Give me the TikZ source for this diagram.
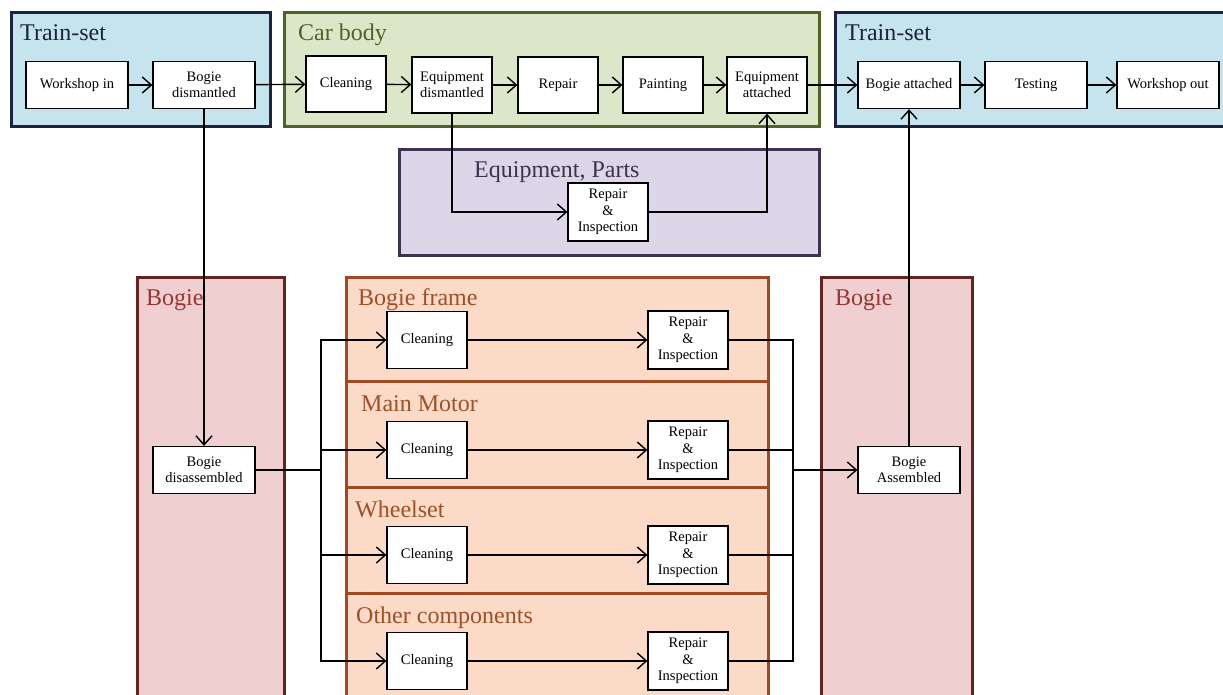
\documentclass[tikz,border=0pt]{standalone}
\usepackage{fontspec}
\setmainfont{Liberation Serif}
\usetikzlibrary{arrows.meta,positioning}
\definecolor{tsfill}{HTML}{C6E4EE}
\definecolor{tsdraw}{HTML}{1C2340}
\definecolor{cbfill}{HTML}{DCE6C8}
\definecolor{cbdraw}{HTML}{4F6228}
\definecolor{epfill}{HTML}{DCD6E8}
\definecolor{epdraw}{HTML}{3F3151}
\definecolor{bgfill}{HTML}{EFCFCF}
\definecolor{bgdraw}{HTML}{632523}
\definecolor{bgtext}{HTML}{943634}
\definecolor{orfill}{HTML}{FBDAC8}
\definecolor{ordraw}{HTML}{A04A22}
\definecolor{ortext}{HTML}{9C5228}
\begin{document}
\begin{tikzpicture}[x=1pt,y=-1pt,
  container/.style={line width=3pt},
  grouplabel/.style={anchor=base west,inner sep=0pt,font=\fontsize{24}{28}\selectfont},
  proc/.style={draw=black,line width=1.3pt,fill=white,align=center,inner sep=1pt,
    font=\fontsize{14.5}{16.5}\selectfont},
  wide/.style={proc,minimum width=102pt,minimum height=47pt},
  narrow/.style={proc,minimum width=80pt,minimum height=56pt},
  ri/.style={proc,minimum width=80pt,minimum height=58pt},
  conn/.style={line width=1.4pt,draw=black},
  arr/.style={conn,-{Straight Barb[length=9pt,width=16pt,line width=1.4pt]}}]
\useasboundingbox (0,0) rectangle (1223,695);
\clip (0,0) rectangle (1223,695);
\fill[white] (0,0) rectangle (1223,695);
% containers
\draw[container,draw=tsdraw,fill=tsfill] (11,13) rectangle (270,127);
\draw[container,draw=cbdraw,fill=cbfill] (284,13) rectangle (819,127);
\draw[container,draw=tsdraw,fill=tsfill] (835,13) rectangle (1240,127);
\draw[container,draw=epdraw,fill=epfill] (399,150) rectangle (819,255);
\draw[container,draw=bgdraw,fill=bgfill] (137,277) rectangle (284,710);
\draw[container,draw=bgdraw,fill=bgfill] (821,277) rectangle (972,710);
\draw[container,draw=ordraw,fill=orfill] (346,277) rectangle (768,381);
\draw[container,draw=ordraw,fill=orfill] (346,381) rectangle (768,487);
\draw[container,draw=ordraw,fill=orfill] (346,487) rectangle (768,593);
\draw[container,draw=ordraw,fill=orfill] (346,593) rectangle (768,710);
% group labels
\node[grouplabel,text=tsdraw] (lts1) at (20,41) {Train-set};
\node[grouplabel,text=cbdraw] (lcb) at (298,41) {Car body};
\node[grouplabel,text=tsdraw] (lts2) at (845,41) {Train-set};
\node[grouplabel,text=epdraw] (lep) at (474,178) {Equipment, Parts};
\node[grouplabel,text=bgtext] (lbg1) at (146,305) {Bogie};
\node[grouplabel,text=bgtext] (lbg2) at (835,305) {Bogie};
\node[grouplabel,text=ortext] (lbf) at (358,305) {Bogie frame};
\node[grouplabel,text=ortext] (lmm) at (361,411) {Main Motor};
\node[grouplabel,text=ortext] (lws) at (355,517) {Wheelset};
\node[grouplabel,text=ortext] (loc) at (356,623) {Other components};
% process nodes
\node[wide] (wi) at (77,85) {Workshop in};
\node[wide] (bd) at (204,85) {Bogie\\dismantled};
\node[narrow] (cl) at (346,84) {Cleaning};
\node[narrow] (eqd) at (452,85) {Equipment\\dismantled};
\node[narrow] (rep) at (558,85) {Repair};
\node[narrow] (pnt) at (663,85) {Painting};
\node[narrow] (eqa) at (767,85) {Equipment\\attached};
\node[wide] (bat) at (909,85) {Bogie attached};
\node[wide] (tst) at (1036,85) {Testing};
\node[wide] (wo) at (1168,85) {Workshop out};
\node[ri] (eri) at (608,212) {Repair\\\&\\Inspection};
\node[wide] (bdis) at (204,470) {Bogie\\disassembled};
\node[wide] (bas) at (909,470) {Bogie\\Assembled};
\node[narrow,minimum height=57pt] (c1) at (427,340) {Cleaning};
\node[narrow,minimum height=57pt] (c2) at (427,450) {Cleaning};
\node[narrow,minimum height=57pt] (c3) at (427,555) {Cleaning};
\node[narrow,minimum height=57pt] (c4) at (427,661) {Cleaning};
\node[ri] (r1) at (688,340) {Repair\\\&\\Inspection};
\node[ri] (r2) at (688,450) {Repair\\\&\\Inspection};
\node[ri] (r3) at (688,555) {Repair\\\&\\Inspection};
\node[ri] (r4) at (688,661) {Repair\\\&\\Inspection};
\coordinate (split) at (321,470);
\coordinate (join) at (793,470);
% connectors
\draw[arr] (wi) -- (bd);
\draw[arr] (bd) -- (cl);
\draw[arr] (cl) -- (eqd);
\draw[arr] (eqd) -- (rep);
\draw[arr] (rep) -- (pnt);
\draw[arr] (pnt) -- (eqa);
\draw[arr] (eqa.east) -- (bat.west);
\draw[arr] (bat) -- (tst);
\draw[arr] (tst) -- (wo);
\draw[arr] (eqd.south) |- (eri.west);
\draw[arr] (eri.east) -| (eqa.south);
\draw[arr] (bd.south) -- (bdis.north);
\draw[conn] (bdis.east) -- (split);
\draw[arr] (split) |- (c1.west);
\draw[arr] (split) |- (c2.west);
\draw[arr] (split) |- (c3.west);
\draw[arr] (split) |- (c4.west);
\draw[arr] (c1) -- (r1);
\draw[arr] (c2) -- (r2);
\draw[arr] (c3) -- (r3);
\draw[arr] (c4) -- (r4);
\draw[conn] (r1.east) -| (join);
\draw[conn] (r2.east) -| (join);
\draw[conn] (r3.east) -| (join);
\draw[conn] (r4.east) -| (join);
\draw[arr] (join) -- (bas.west);
\draw[arr] (bas.north) -- (bat.south);
\end{tikzpicture}
\end{document}
